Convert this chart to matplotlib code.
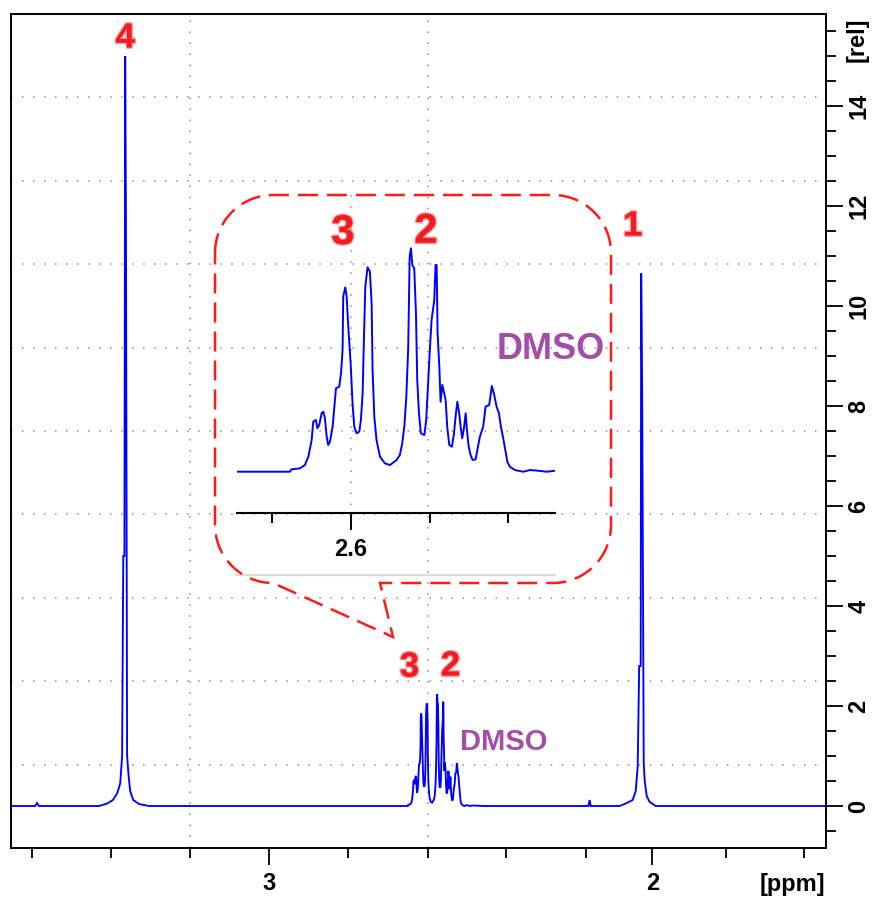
import numpy as np
import matplotlib
matplotlib.use("Agg")
import matplotlib.pyplot as plt
from matplotlib.path import Path
from matplotlib.patches import PathPatch
import matplotlib.patheffects as pe

# ---------------- spectrum data (ppm, relative intensity) ----------------
# region left of the multiplet, including signal 4
left_ppm = [3.674, 3.611, 3.606, 3.601,
            3.444, 3.423, 3.408, 3.397, 3.389, 3.384, 3.381, 3.378, 3.376,
            3.374, 3.371, 3.367, 3.363, 3.355, 3.340, 3.314, 2.700]
left_int = [0.0, 0.0, 0.06, 0.0,
            0.0, 0.05, 0.12, 0.25, 0.45, 1.0, 5.0, 5.0, 15.0,
            11.7, 1.0, 0.6, 0.3, 0.12, 0.04, 0.0, 0.0]

# multiplet region: signals 3, 2 and residual DMSO
mult_ppm = [2.6723, 2.6385, 2.6374, 2.6321, 2.6290, 2.6268, 2.6247, 2.6237,
            2.6220, 2.6211, 2.6199, 2.6184, 2.6173, 2.6163, 2.6152, 2.6142,
            2.6131, 2.6114, 2.6104, 2.6093, 2.6072, 2.6061, 2.6051, 2.6047,
            2.6034, 2.6026, 2.6015, 2.6000, 2.5988, 2.5977, 2.5962, 2.5945,
            2.5935, 2.5924, 2.5916, 2.5907, 2.5893, 2.5878, 2.5867, 2.5861,
            2.5850, 2.5836, 2.5814, 2.5783, 2.5751, 2.5709, 2.5688, 2.5673,
            2.5660, 2.5647, 2.5635, 2.5626, 2.5618, 2.5609, 2.5597, 2.5586,
            2.5578, 2.5567, 2.5555, 2.5533, 2.5521, 2.5508, 2.5497, 2.5487,
            2.5470, 2.5462, 2.5455, 2.5449, 2.5438, 2.5430, 2.5419, 2.5407,
            2.5398, 2.5388, 2.5375, 2.5358, 2.5345, 2.5335, 2.5324, 2.5312,
            2.5303, 2.5293, 2.5282, 2.5271, 2.5263, 2.5252, 2.5240, 2.5227,
            2.5208, 2.5195, 2.5181, 2.5160, 2.5145, 2.5122, 2.5105, 2.5090,
            2.5075, 2.5060, 2.5048, 2.5033, 2.5020, 2.5007, 2.4991, 2.4959,
            2.4906, 2.4864, 2.4811, 2.4758, 2.4705]
mult_int = [0.0, 0.0, 0.024, 0.034, 0.067, 0.151, 0.318, 0.502,
            0.519, 0.435, 0.469, 0.586, 0.602, 0.535, 0.352, 0.268,
            0.301, 0.452, 0.636, 0.836, 0.853, 0.987, 1.221, 1.756,
            1.849, 1.772, 1.455, 1.087, 0.686, 0.452, 0.385, 0.402,
            0.519, 0.786, 1.321, 1.856, 2.050, 2.006, 1.689, 1.020,
            0.552, 0.318, 0.151, 0.084, 0.067, 0.117, 0.168, 0.285,
            0.452, 0.753, 1.254, 2.157, 2.240, 2.073, 2.040, 1.588,
            0.920, 0.585, 0.385, 0.368, 0.519, 0.920, 1.254, 1.522,
            1.722, 2.073, 2.073, 1.388, 1.053, 0.702, 0.870, 0.786,
            0.719, 0.452, 0.268, 0.251, 0.385, 0.552, 0.702, 0.586,
            0.452, 0.335, 0.435, 0.586, 0.418, 0.251, 0.168, 0.117,
            0.124, 0.234, 0.352, 0.452, 0.652, 0.669, 0.860, 0.769,
            0.652, 0.586, 0.452, 0.335, 0.218, 0.100, 0.050, 0.017,
            0.0, 0.017, 0.010, 0.0, 0.010]

# region right of the multiplet, including signal 1
right_ppm = [2.440, 2.167, 2.164, 2.161,
             2.0854, 2.0698, 2.0515, 2.0436, 2.0384, 2.0345, 2.0306, 2.0293,
             2.0267, 2.0227, 2.0201, 2.0149, 2.0071, 1.9914, 1.547]
right_int = [0.0, 0.0, 0.12, 0.0,
             0.0, 0.05, 0.12, 0.3, 0.8, 2.8, 2.8, 10.65,
             8.2, 0.85, 0.5, 0.2, 0.08, 0.0, 0.0]

# axis settings
x_major_ticks = [3.0, 2.0]
x_major_labels = ["3", "2"]
x_minor_ticks = [3.618, 3.414, 3.206, 2.795, 2.586, 2.383, 2.174, 1.808, 1.604]
x_grid = [3.206, 2.586]
y_major_ticks = [0, 2, 4, 6, 8, 10, 12, 14]

# peak annotations: (text, ppm, intensity)
main_labels = [("4", 3.376, 15.36), ("1", 2.0515, 11.6),
               ("3", 2.634, 2.78), ("2", 2.527, 2.80)]
inset_labels = [("3", 2.6049, 2.394), ("2", 2.5523, 2.407)]
solvent_main = ("DMSO", 2.389, 1.27)
solvent_inset = ("DMSO", 2.4733, 1.228)

# ---------------- figure ----------------
W, H = 876, 899
BLUE = "#0000ff"
RED = "#ee1c24"
PURPLE = "#a24ea6"
GRIDC = "#9a9a9a"
FONT = "Liberation Sans"

plt.rcParams["font.family"] = [FONT, "DejaVu Sans"]

fig = plt.figure(figsize=(W / 100, H / 100), dpi=100)
fig.patch.set_facecolor("white")


def fx(px):
    return px / W


def fy(py):
    return 1 - py / H


ax = fig.add_axes([fx(11), fy(848), (826 - 11) / W, (848 - 14) / H])
ppm = np.array(left_ppm + mult_ppm + right_ppm)
inten = np.array(left_int + mult_int + right_int)
ax.plot(ppm, inten, color=BLUE, lw=1.35, zorder=3, solid_joinstyle="miter")
ax.set_xlim(3.674, 1.547)
ax.set_ylim(-0.84, 15.84)

for s in ax.spines.values():
    s.set_linewidth(1.4)
    s.set_color("black")

dotted = (0, (0.8, 5.3))
y0, y1 = ax.get_ylim()
for k in range(1, 10):
    ax.axhline(y0 + k * (y1 - y0) / 10, color=GRIDC, lw=1.3, ls=dotted, zorder=1)
for g in x_grid:
    ax.axvline(g, color=GRIDC, lw=1.3, ls=dotted, zorder=1)

ax.set_xticks(x_major_ticks)
ax.set_xticklabels(x_major_labels)
ax.set_xticks(x_minor_ticks, minor=True)
ax.tick_params(axis="x", which="major", direction="out", length=12.5, width=1.3,
               pad=5, labelsize=17)
ax.tick_params(axis="x", which="minor", direction="out", length=7, width=1.3)

ax.yaxis.tick_right()
ax.set_yticks(y_major_ticks)
ax.set_yticks(np.arange(-0.5, 15.6, 0.5), minor=True)
ax.tick_params(axis="y", which="major", direction="out", length=12.5, width=1.3,
               pad=3, labelsize=17, right=True, left=False)
ax.tick_params(axis="y", which="minor", direction="out", length=7, width=1.3,
               right=True, left=False)
for lab in ax.get_yticklabels():
    lab.set_rotation(90)
    lab.set_fontweight("bold")
    lab.set_va("center")
for lab in ax.get_xticklabels():
    lab.set_fontweight("bold")

fig.text(fx(792), fy(884), "[ppm]", ha="center", va="center", fontsize=17,
         fontweight="bold")
fig.text(fx(857), fy(40), "[rel]", ha="center", va="center", fontsize=17,
         fontweight="bold", rotation=90)

glow = [pe.withStroke(linewidth=2.0, foreground=(1.0, 0.4, 0.4, 0.7))]
for txt, xp, yp in main_labels:
    ax.text(xp, yp, txt, color=RED, fontsize=25, fontweight="bold",
            ha="center", va="center", path_effects=glow, zorder=5)
ax.text(solvent_main[1], solvent_main[2], solvent_main[0], color=PURPLE,
        fontsize=21, fontweight="bold", ha="center", va="center", zorder=5)

# ---------------- callout bubble ----------------
L, R, T, B, r = 215, 611, 195, 583, 58
tip = (393, 637)
attach = 380


def arc(cx, cy, a0, a1, n=30):
    a = np.radians(np.linspace(a0, a1, n))
    return list(zip(cx + r * np.cos(a), cy - r * np.sin(a)))


pts = []
pts += arc(L + r, T + r, 180, 90)
pts += arc(R - r, T + r, 90, 0)
pts += arc(R - r, B - r, 0, -90)
pts += [(attach, B), tip]
pts += arc(L + r, B - r, -90, -180)
pts.append(pts[0])
verts = [(fx(x), fy(y)) for x, y in pts]
bubble = PathPatch(Path(verts), transform=fig.transFigure, fill=False,
                   edgecolor="#ff1a1a", lw=1.8, ls=(0, (8, 3.6)), zorder=6)
fig.patches.append(bubble)

# ---------------- inset ----------------
axin = fig.add_axes([fx(236.7), fy(513.3), (555 - 236.7) / W, (513.3 - 193) / H])
axin.patch.set_alpha(0)
axin.plot(mult_ppm, mult_int, color=BLUE, lw=1.4, zorder=3)
axin.set_xlim(2.6722, 2.4705)
axin.set_ylim(-0.417, 2.795)
for side in ("top", "left", "right"):
    axin.spines[side].set_visible(False)
axin.spines["bottom"].set_linewidth(1.5)
axin.axvline(2.6, ymin=(-0.334 + 0.417) / (2.795 + 0.417), ymax=1,
             color=GRIDC, lw=1.3, ls=dotted, zorder=1)
axin.set_xticks([2.6])
axin.set_xticklabels(["2.6"])
axin.set_xticks([2.65, 2.55, 2.5], minor=True)
axin.set_yticks([])
axin.tick_params(axis="x", which="major", direction="out", length=12.5,
                 width=1.4, pad=5, labelsize=17)
axin.tick_params(axis="x", which="minor", direction="out", length=7, width=1.4)
for lab in axin.get_xticklabels():
    lab.set_fontweight("bold")

for txt, xp, yp in inset_labels:
    axin.text(xp, yp, txt, color=RED, fontsize=30, fontweight="bold",
              ha="center", va="center", path_effects=glow, zorder=5)
axin.text(solvent_inset[1], solvent_inset[2], solvent_inset[0], color=PURPLE,
          fontsize=26, fontweight="bold", ha="center", va="center", zorder=5)

fig.add_artist(plt.Line2D([fx(236), fx(555)], [fy(575), fy(575)],
                          transform=fig.transFigure, color="#dcdcdc", lw=1.6))

fig.savefig("out.png", dpi=100, facecolor="white")
